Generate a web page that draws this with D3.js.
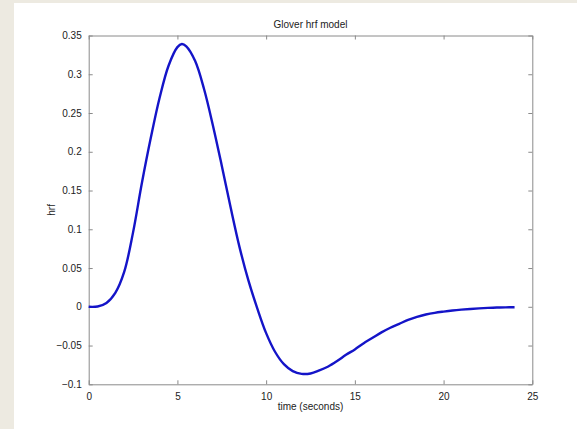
<!DOCTYPE html>
<html>
<head>
<meta charset="utf-8">
<script src="https://cdn.jsdelivr.net/npm/d3@7"></script>
<style>
  html, body { margin: 0; padding: 0; background: #edeae1; }
  svg { display: block; }
  text { font-family: "Liberation Sans", Arial, sans-serif; fill: #222; }
</style>
</head>
<body>
<svg id="chart" width="577" height="429"></svg>
<script>
// Data
const timeSec = [0, 0.5, 1.0, 1.5, 2.0, 2.5, 3.0, 3.5, 4.0, 4.5, 5.0, 5.25, 5.5, 6.0, 6.5, 7.0, 7.5, 8.0, 8.5, 9.0, 9.5, 10.0, 10.5, 11.0, 11.5, 12.0, 12.5, 13.0, 13.5, 14.0, 14.5, 15.0, 15.5, 16.0, 16.5, 17.0, 17.5, 18.0, 18.5, 19.0, 19.5, 20.0, 20.5, 21.0, 21.5, 22.0, 22.5, 23.0, 23.5, 24.0];
const hrfValues = [0, 0.0004, 0.005, 0.018, 0.045, 0.096, 0.160, 0.218, 0.270, 0.311, 0.335, 0.339, 0.336, 0.317, 0.281, 0.234, 0.182, 0.128, 0.077, 0.034, -0.002, -0.034, -0.058, -0.074, -0.083, -0.0865, -0.086, -0.082, -0.077, -0.070, -0.062, -0.055, -0.047, -0.040, -0.033, -0.027, -0.022, -0.017, -0.013, -0.010, -0.0078, -0.0062, -0.0048, -0.0037, -0.0028, -0.0020, -0.0014, -0.0010, -0.0007, -0.0005];
const xTicks = [0, 5, 10, 15, 20, 25];
const yTicks = [-0.1, -0.05, 0, 0.05, 0.1, 0.15, 0.2, 0.25, 0.3, 0.35];
const titleText = "Glover hrf model";
const xLabelText = "time (seconds)";
const yLabelText = "hrf";

const svg = d3.select("#chart");
// white figure panel
svg.append("rect").attr("x", 14).attr("y", 3).attr("width", 563).attr("height", 426).attr("fill", "#ffffff");

const L = 88.7, R = 532.3, T = 35.5, B = 384.3;
const x = d3.scaleLinear().domain([0, 25]).range([L, R]);
const y = d3.scaleLinear().domain([-0.1, 0.35]).range([B, T]);

const axisColor = "#8a8a8a";
const tickFmt = d => d3.format("")(+d.toFixed(2));

function styleAxis(g) {
  g.select(".domain").attr("stroke", axisColor).attr("stroke-width", 1);
  g.selectAll(".tick line").attr("stroke", axisColor);
  g.selectAll(".tick text").attr("font-size", "10px").attr("fill", "#1e1e1e").style("font-family", "Liberation Sans, Arial, sans-serif");
}

// bottom axis (ticks inward)
const gx = svg.append("g").attr("transform", `translate(0,${B})`)
  .call(d3.axisBottom(x).tickValues(xTicks).tickSize(-4).tickPadding(9).tickSizeOuter(0).tickFormat(tickFmt));
styleAxis(gx);
// left axis
const gy = svg.append("g").attr("transform", `translate(${L},0)`)
  .call(d3.axisLeft(y).tickValues(yTicks).tickSize(-4).tickPadding(7).tickSizeOuter(0).tickFormat(tickFmt));
styleAxis(gy);
// top axis
const gt = svg.append("g").attr("transform", `translate(0,${T})`)
  .call(d3.axisTop(x).tickValues(xTicks).tickSize(-4).tickSizeOuter(0).tickFormat(""));
styleAxis(gt);
// right axis
const gr = svg.append("g").attr("transform", `translate(${R},0)`)
  .call(d3.axisRight(y).tickValues(yTicks).tickSize(-4).tickSizeOuter(0).tickFormat(""));
styleAxis(gr);

// line
const line = d3.line()
  .x((d, i) => x(timeSec[i]))
  .y(d => y(d))
  .curve(d3.curveCatmullRom.alpha(0.5));
svg.append("path")
  .datum(hrfValues)
  .attr("d", line)
  .attr("fill", "none")
  .attr("stroke", "#1414c8")
  .attr("stroke-width", 2.4)
  .attr("stroke-linejoin", "round");

// title and labels
svg.append("text").attr("x", (L + R) / 2).attr("y", 27.5).attr("text-anchor", "middle")
  .attr("font-size", "10px").text(titleText);
svg.append("text").attr("x", (L + R) / 2).attr("y", 410).attr("text-anchor", "middle")
  .attr("font-size", "10px").text(xLabelText);
svg.append("text").attr("transform", `translate(55,${(T + B) / 2}) rotate(-90)`).attr("text-anchor", "middle")
  .attr("font-size", "10px").text(yLabelText);
</script>
</body>
</html>
